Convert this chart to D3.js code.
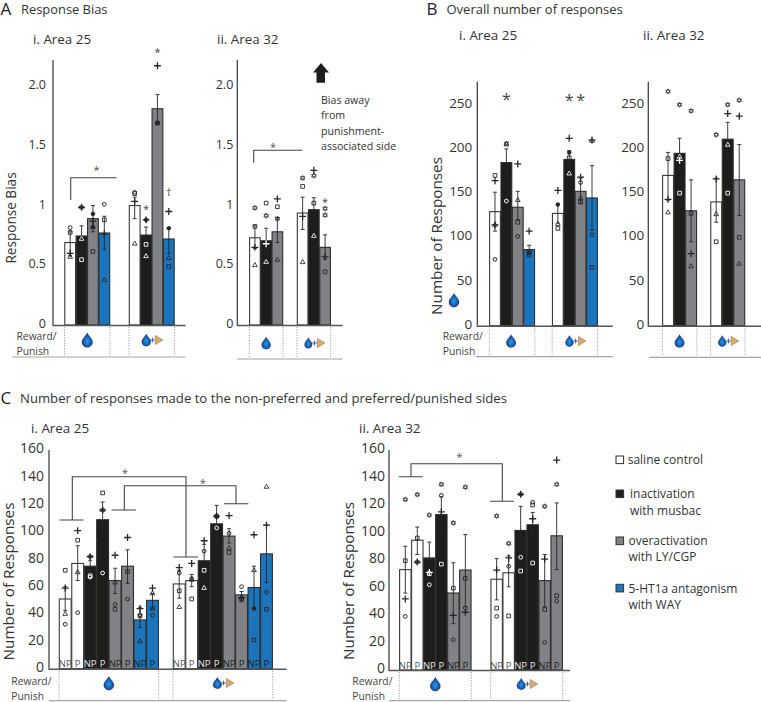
<!DOCTYPE html>
<html><head><meta charset="utf-8">
<script src="https://cdn.jsdelivr.net/npm/d3@7"></script>
<style>
html,body{margin:0;padding:0;background:#fff}
svg{display:block}
text{font-family:"Open Sans",sans-serif;fill:#333}
</style></head><body>
<svg id="chart" width="761" height="702"></svg>
<script>
// ---------- shared categories ----------
const groups = ["water","water+punish"];
const conditions = ["saline","musbac","ly","way"];
const sides = ["NP","P"];
const legendLabels = [["saline control"],["inactivation","with musbac"],["overactivation","with LY/CGP"],["5-HT1a antagonism","with WAY"]];
const biasTicks = [0,0.5,1,1.5,2];
const biasTickLabels = ["0","0.5","1","1.5","2.0"];
const totalTicks = [0,50,100,150,200,250];
const sideTicks = [0,20,40,60,80,100,120,140,160];

// ---------- A.i Response bias, Area 25 ----------
const a25Values = [0.69,0.745,0.89,0.77, 1.0,0.753,1.81,0.72];
const a25Hi =     [0.78,0.83,1.0,0.91, 1.07,0.82,1.93,0.81];
const a25Lo =     [0.58,0.64,0.78,0.63, 0.89,0.64,1.69,0.60];
const a25Points = [
 [["circle",0.815],["square",0.775],["plus",0.60],["triangle",0.57]],
 [["plus",0.985],["star",0.985],["triangle",0.72],["square",0.547]],
 [["dot",0.93],["plus",0.87],["dot",0.82],["triangle",0.82],["square",0.615]],
 [["circle",1.01],["square",0.88],["plus",0.76],["triangle",0.376]],
 [["square",1.10],["circle",1.11],["plus",1.035],["triangle",0.68]],
 [["plus",0.88],["dot",0.88],["square",0.675],["triangle",0.575]],
 [["plus",2.17],["square",1.69],["dot",1.69]],
 [["dot",0.81],["plus",0.95],["triangle",0.56],["square",0.49]]
];
const a25Notes = [[5,0.995,"*"],[6,2.31,"*"],[7,1.11,"†"]];

// ---------- A.ii Response bias, Area 32 ----------
const a32Values = [0.73,0.705,0.78, 0.937,0.965,0.65];
const a32Hi =     [0.83,0.81,0.90, 1.07,1.065,0.755];
const a32Lo =     [0.64,0.60,0.69, 0.80,0.91,0.55];
const a32Points = [
 [["star",0.98],["square",0.825],["plus",0.65],["triangle",0.50]],
 [["square",1.02],["star",0.915],["plus",0.68],["triangle",0.527]],
 [["plus",1.055],["square",0.99],["star",0.89],["triangle",0.545]],
 [["star",1.23],["square",1.16],["plus",0.91],["triangle",0.525]],
 [["plus",1.295],["star",1.25],["square",1.02],["triangle",0.745]],
 [["star",0.975],["star",0.92],["plus",0.57],["square",0.445]]
];
const a32Notes = [[5,1.05,"*"]];

// ---------- B.i Overall responses, Area 25 ----------
const b25Values = [129,184.5,134,86, 127,188,152,144.5];
const b25Hi =     [151,200,152,91, 138,198,167,181];
const b25Lo =     [107,168,120,81, 116,180,138,108];
const b25Points = [
 [["square",170],["plus",164],["triangle",114],["plus",114],["circle",75]],
 [["star",206],["triangle",205],["circle",141]],
 [["plus",183],["triangle",142],["square",117],["circle",101]],
 [["plus",107],["square",84],["square",80],["circle",82]],
 [["plus",153],["dot",137],["triangle",115],["square",110]],
 [["plus",212],["dot",196],["square",190],["triangle",172]],
 [["plus",168],["circle",162],["triangle",144],["square",140]],
 [["plus",210],["triangle",209],["circle",103],["square",66]]
];
const b25Notes = [[1,261,"*"],[5,259,"*"],[6,259,"*"]];

// ---------- B.ii Overall responses, Area 32 ----------
const b32Values = [170,195,130, 140,211,165];
const b32Hi =     [196,212,165, 167,230,205];
const b32Lo =     [142,176,95, 117,193,124.5];
const b32Points = [
 [["star",265],["square",189],["plus",143],["triangle",128]],
 [["star",250],["triangle",191],["plus",187],["square",150]],
 [["star",243],["square",127],["plus",81.5],["triangle",67]],
 [["star",216],["plus",166],["triangle",126],["square",95]],
 [["star",250],["plus",240],["triangle",204.5],["square",150]],
 [["star",255],["plus",237],["square",100],["triangle",70]]
];

// ---------- C.i Responses by side, Area 25 ----------
const c25Values = [51,77,75,109,64.5,75,35.7,50, 62,64.5,79,106,97,54,59.4,84];
const c25Hi =     [60,90,79,122,73.5,87,45,55, 72,69,91,119.5,102.4,56.5,75,105];
const c25Lo =     [42.5,64.5,70,96,55,62.5,30,44, 51.6,60,67,93,92,49,44,63];
const c25Points = [
 [["square",72],["plus",59],["triangle",40],["circle",32.5]],
 [["plus",101],["square",94],["triangle",70.5],["circle",41]],
 [["plus",82],["star",82],["square",68],["circle",67]],
 [["square",128.6],["plus",116],["star",116],["circle",70]],
 [["plus",83],["triangle",63],["circle",47],["square",43.5]],
 [["plus",96],["square",71],["circle",51]],
 [["plus",44],["circle",39.4],["square",38.6],["triangle",20]],
 [["plus",59],["triangle",55],["square",44],["circle",39]],
 [["plus",74],["circle",70],["square",57],["triangle",45]],
 [["plus",77],["circle",66],["triangle",65],["square",51]],
 [["plus",93.6],["circle",86],["square",72],["triangle",59]],
 [["plus",111.5],["square",111.5],["dot",111.5],["circle",103]],
 [["plus",112],["circle",99],["triangle",88],["square",85]],
 [["circle",60],["plus",52],["triangle",52],["square",51]],
 [["plus",98],["triangle",72],["dot",44],["square",21]],
 [["triangle",133],["plus",105],["circle",56],["square",43.5]]
];

// ---------- C.ii Responses by side, Area 32 ----------
const c32Values = [73,94.4,81.5,113,56,72.7, 66,70.7,101.5,105.6,65,97.6];
const c32Hi =     [90,104,93,126,78,98.5, 81,83,119,114.6,84,121.5];
const c32Lo =     [56,84,70,100,33.7,46, 51,60.5,85,97.6,46,73];
const c32Points = [
 [["star",124],["square",79.5],["plus",51.7],["circle",39]],
 [["star",127.6],["square",96],["plus",78.5],["star",78.5]],
 [["star",112.7],["plus",71],["square",70],["circle",62]],
 [["star",135],["circle",127],["plus",115],["square",77]],
 [["star",107],["square",59.5],["plus",39.8],["circle",22]],
 [["star",133],["square",66.6],["circle",45],["plus",42]],
 [["star",112],["plus",72.7],["square",45],["circle",39]],
 [["star",92],["plus",81.5],["circle",75.4],["square",39.3]],
 [["star",127.8],["plus",127.8],["circle",82],["square",72]],
 [["circle",122],["square",120],["plus",110],["square",77.8]],
 [["star",119],["plus",80.7],["square",44],["circle",20]],
 [["plus",152.7],["star",135],["square",54],["circle",50]]
];

// ---------- drawing ----------
const fillOf = {saline:"#ffffff",musbac:"#1d1d1b",ly:"#808285",way:"#1b75bc"};
const ink = "#262626";
const svg = d3.select("#chart");
const defs = svg.append("defs");
const grad = defs.append("radialGradient").attr("id","drop").attr("cx","50%").attr("cy","58%").attr("r","55%");
grad.append("stop").attr("offset","0%").attr("stop-color","#1fa2de");
grad.append("stop").attr("offset","55%").attr("stop-color","#1b5fb5");
grad.append("stop").attr("offset","100%").attr("stop-color","#1c2a7e");

const starSym = {draw(c,size){
  const r=Math.sqrt(size)*0.9;
  [[0,1,2],[3,4,5]].forEach((t,k)=>{
    t.forEach((i,j)=>{
      const a=(k?Math.PI:0)+ (j*2*Math.PI/3) - Math.PI/2;
      const x=r*Math.cos(a), y=r*Math.sin(a);
      j?c.lineTo(x,y):c.moveTo(x,y);
    });
    c.closePath();
  });
}};
const plusSym = {draw(c,size){const r=Math.sqrt(size)/2;c.moveTo(-r,0);c.lineTo(r,0);c.moveTo(0,-r);c.lineTo(0,r);}};
const symbols = {
  circle:{t:d3.symbolCircle,s:11,fill:false,w:1},
  dot:{t:d3.symbolCircle,s:10,fill:true,w:1},
  square:{t:d3.symbolSquare,s:13.5,fill:false,w:0.9},
  triangle:{t:d3.symbolTriangle,s:9.5,fill:false,w:0.85},
  star:{t:starSym,s:8.5,fill:false,w:0.7},
  plus:{t:plusSym,s:48,fill:false,w:1.3}
};

function label(x,y,str,size,opts={}){
  const t=svg.append("text").attr("x",x).attr("y",y).attr("dy","0.35em").attr("font-size",size).text(str);
  if(opts.fill)t.style("fill",opts.fill);
  if(opts.anchor)t.attr("text-anchor",opts.anchor);
  if(opts.family)t.style("font-family",opts.family);
  return t;
}
function dropPath(x,y,s){
  const p=d3.path();
  p.moveTo(x,y-7.5*s);
  p.bezierCurveTo(x+1.5*s,y-4*s,x+5.5*s,y-1.5*s,x+5.5*s,y+2*s);
  p.bezierCurveTo(x+5.5*s,y+5.5*s,x+2.5*s,y+7.5*s,x,y+7.5*s);
  p.bezierCurveTo(x-2.5*s,y+7.5*s,x-5.5*s,y+5.5*s,x-5.5*s,y+2*s);
  p.bezierCurveTo(x-5.5*s,y-1.5*s,x-1.5*s,y-4*s,x,y-7.5*s);
  p.closePath();
  return p.toString();
}
function drop(x,y,s){svg.append("path").attr("d",dropPath(x,y,s)).attr("fill","url(#drop)");}
function dropPunish(x,y,s){
  drop(x-5.5,y,s);
  svg.append("path").attr("d",d3.line()([[x-1.6,y],[x+3,y]])+d3.line()([[x+0.7,y-2.3],[x+0.7,y+2.3]])).attr("stroke","#2b4f8f").attr("stroke-width",0.9).attr("fill","none");
  svg.append("path").attr("d",d3.line()([[x+3.5,y-4.5],[x+11,y],[x+3.5,y+4.5]])+"Z")
    .attr("fill","#d8ab6c").attr("stroke","#a8824f").attr("stroke-width",0.7);
}

function panel(cfg){
  const {values,hi,lo,points,notes=[],noteSize=11,left,right,top,bottom,domainMax,tickVals,tickFmt,tickPad,tickSize,groupRange,gap,conds,paired,lineY,lineStart,rewardX,rewardY,dropY,ylabel,ylabelX,ylabelY,dropScale=1} = cfg;
  const y=d3.scaleLinear().domain([0,domainMax]).range([bottom,top]);
  const gTotal=groupRange[1]-groupRange[0];
  const gBand=d3.scaleBand().domain(groups).range(groupRange).paddingInner(gap/((gTotal+gap)/2));
  const cats=paired?conds.flatMap(c=>sides.map(s=>c+"|"+s)):conds;
  const inner=d3.scaleBand().domain(cats).range([0,gBand.bandwidth()]);
  const bars=groups.flatMap(g=>cats.map(c=>({g,c,cond:c.split("|")[0],side:c.split("|")[1]})));
  bars.forEach((b,i)=>{b.v=values[i];b.hi=hi[i];b.lo=lo[i];b.pts=points[i];b.x=gBand(b.g)+inner(b.c);b.cx=b.x+inner.bandwidth()/2;});

  // y axis
  const axis=d3.axisLeft(y).tickValues(tickVals).tickSize(0).tickPadding(tickPad).tickFormat(tickFmt);
  const ag=svg.append("g").attr("transform",`translate(${left},0)`).call(axis);
  ag.select(".domain").remove();
  ag.selectAll("text").attr("font-size",tickSize).style("font-family",'"Open Sans",sans-serif').style("fill","#333").attr("dy","0.2em");

  // bars
  svg.append("g").selectAll("rect").data(bars).join("rect")
    .attr("x",d=>d.x+0.3).attr("width",inner.bandwidth()-0.6)
    .attr("y",d=>y(d.v)).attr("height",d=>y(0)-y(d.v))
    .attr("fill",d=>fillOf[d.cond]).attr("stroke",d=>d.cond==="saline"?"#3a3a3a":"#2e2e2e").attr("stroke-width",1.1);

  // axes lines
  svg.append("line").attr("x1",left).attr("x2",left).attr("y1",top).attr("y2",bottom).attr("stroke","#444").attr("stroke-width",1.3);
  svg.append("line").attr("x1",left-0.6).attr("x2",right).attr("y1",bottom+0.5).attr("y2",bottom+0.5).attr("stroke","#555").attr("stroke-width",1.6);

  // side labels
  if(paired){
    svg.append("g").selectAll("text").data(bars).join("text")
      .attr("x",d=>d.cx).attr("y",bottom-1.5).attr("text-anchor","middle").attr("font-size",9.5)
      .style("font-family",'"Liberation Sans Narrow","Open Sans",sans-serif')
      .style("fill",d=>d.cond==="musbac"?"#e8e8e8":(d.cond==="saline"?"#555":"#222"))
      .text(d=>d.side);
  }

  // error bars
  const eg=svg.append("g").attr("stroke",ink).attr("stroke-width",0.9);
  bars.forEach(b=>{
    eg.append("line").attr("x1",b.cx).attr("x2",b.cx).attr("y1",y(b.hi)).attr("y2",y(b.lo));
    [b.hi,b.lo].forEach(v=>eg.append("line").attr("x1",b.cx-2).attr("x2",b.cx+2).attr("y1",y(v)).attr("y2",y(v)));
  });

  // individual subject markers
  const mg=svg.append("g");
  bars.forEach(b=>b.pts.forEach(([shape,v])=>{
    const s=symbols[shape];
    const col=(b.cond==="musbac"&&v<b.v)?"#fff":ink;
    mg.append("path").attr("d",d3.symbol().type(s.t).size(s.s)())
      .attr("transform",`translate(${b.cx},${y(v)})`)
      .attr("fill",s.fill?col:"none").attr("stroke",col).attr("stroke-width",s.w);
  }));

  // significance notes
  notes.forEach(([i,v,str])=>{
    svg.append("text").attr("x",bars[i].cx).attr("y",y(v)).attr("dy",str==="*"?"0.6em":"0.35em")
      .attr("text-anchor","middle").attr("font-size",noteSize).style("fill","#444").text(str);
  });

  // footer: reward/punish row
  const row=svg.append("g");
  groups.forEach(g=>{
    [gBand(g),gBand(g)+gBand.bandwidth()].forEach(x=>{
      row.append("line").attr("x1",x).attr("x2",x).attr("y1",bottom+2).attr("y2",lineY-1)
        .attr("stroke","#888").attr("stroke-width",0.8).attr("stroke-dasharray","1.2 1.4");
    });
  });
  row.append("line").attr("x1",lineStart).attr("x2",right).attr("y1",lineY).attr("y2",lineY).attr("stroke","#a6a6a6").attr("stroke-width",1.2);
  const c1=gBand(groups[0])+gBand.bandwidth()/2, c2=gBand(groups[1])+gBand.bandwidth()/2;
  drop(c1+(cfg.dropDx||0),dropY,dropScale);
  dropPunish(c2,dropY,dropScale*0.85);
  if(rewardX!=null){
    label(rewardX,rewardY,"Reward/",10.3,{fill:"#444"});
    label(rewardX,rewardY+15,"Punish",10.3,{fill:"#444"});
  }
  if(ylabel){
    svg.append("text").attr("transform",`translate(${ylabelX},${ylabelY}) rotate(-90)`).attr("text-anchor","middle").attr("dy","0.35em")
      .attr("font-size",cfg.ylabelSize).style("fill","#333").text(ylabel);
  }
  return {y,bars};
}

function bracket(pts,star){
  svg.append("path").attr("d",pts.map(s=>d3.line()(s)).join("")).attr("fill","none").attr("stroke","#444").attr("stroke-width",1.1);
  svg.append("text").attr("x",star[0]).attr("y",star[1]).attr("dy","0.6em").attr("text-anchor","middle").attr("font-size",11).style("fill","#555").text("*");
}

// ----- panels -----
const biasFmt=d=>biasTickLabels[biasTicks.indexOf(d)];
panel({values:a25Values,hi:a25Hi,lo:a25Lo,points:a25Points,notes:a25Notes,left:53,right:185.5,top:60,bottom:325,domainMax:2.218,
  tickVals:biasTicks,tickFmt:biasFmt,tickPad:7,tickSize:12.5,groupRange:[64.5,174.5],gap:19,conds:conditions,lineY:357,lineStart:12,rewardX:16.5,rewardY:336,dropY:340,
  ylabel:"Response Bias",ylabelX:11.5,ylabelY:218,ylabelSize:13.6});
panel({values:a32Values,hi:a32Hi,lo:a32Lo,points:a32Points,notes:a32Notes,left:237.3,right:342.7,top:60,bottom:325,domainMax:2.218,
  tickVals:biasTicks,tickFmt:biasFmt,tickPad:4,tickSize:12.5,groupRange:[249.3,330.7],gap:14,conds:conditions.slice(0,3),lineY:359,lineStart:237,dropY:343,dropScale:.85});
panel({values:b25Values,hi:b25Hi,lo:b25Lo,points:b25Points,notes:b25Notes,noteSize:16,left:477.3,right:612.7,top:81.7,bottom:325.7,domainMax:276,
  tickVals:totalTicks,tickFmt:String,tickPad:5,tickSize:13.5,groupRange:[489.3,597.7],gap:17.3,conds:conditions,lineY:356.7,lineStart:476,rewardX:442.7,rewardY:336.5,dropY:341,dropDx:-1,dropScale:.9,
  ylabel:"Number of Responses",ylabelX:437,ylabelY:236,ylabelSize:15.3});
panel({values:b32Values,hi:b32Hi,lo:b32Lo,points:b32Points,left:648.3,right:761,top:81.7,bottom:325.7,domainMax:276,
  tickVals:totalTicks,tickFmt:String,tickPad:4,tickSize:13.5,groupRange:[662.3,745],gap:13.6,conds:conditions.slice(0,3),lineY:357.3,lineStart:649,dropY:341,dropScale:.9});
panel({values:c25Values,hi:c25Hi,lo:c25Lo,points:c25Points,left:49,right:286.7,top:450,bottom:668.7,domainMax:160,
  tickVals:sideTicks,tickFmt:String,tickPad:5,tickSize:14,groupRange:[59,272.7],gap:14.3,conds:conditions,paired:true,lineY:700.7,lineStart:49,rewardX:11.3,rewardY:681.5,dropY:683,dropScale:.95,
  ylabel:"Number of Responses",ylabelX:9,ylabelY:581.5,ylabelSize:15.3});
panel({values:c32Values,hi:c32Hi,lo:c32Lo,points:c32Points,left:389,right:570,top:450,bottom:670,domainMax:160,
  tickVals:sideTicks,tickFmt:String,tickPad:4,tickSize:14,groupRange:[399.3,562.7],gap:19.3,conds:conditions.slice(0,3),paired:true,lineY:700.7,lineStart:389,rewardX:352.3,rewardY:681.5,dropY:684,dropScale:.95,
  ylabel:"Number of Responses",ylabelX:348.5,ylabelY:581,ylabelSize:15.3});

// ----- brackets -----
bracket([[[70.7,200],[70.7,177.7],[116.7,177.7]]],[96.5,167.5]);
bracket([[[253.7,162.7],[253.7,150.3],[302.3,150.3]]],[273,144]);
bracket([[[72.3,520],[72.3,476.7],[186,476.7],[186,557]],[[59.5,520],[83.5,520]],[[173.5,557],[198,557]]],[125,470]);
bracket([[[124.3,510],[124.3,485.7],[236,485.7],[236,503.7]],[[111.7,510],[136,510]],[[224,503.7],[248.3,503.7]]],[202.7,480.3]);
bracket([[[411,476.7],[411,463.7],[502.3,463.7],[502.3,501.3]],[[399,476.7],[422.7,476.7]],[[490,501.3],[514,501.3]]],[459.5,454.3]);

// ----- headings -----
label(0.5,9,"A",17,{fill:"#222"});
label(21,9,"Response Bias",12.9);
label(33,39,"i. Area 25",13.4);
label(217,39,"ii. Area 32",13.4);
label(426.5,9,"B",17,{fill:"#222"});
label(446.5,9,"Overall number of responses",13);
label(459,35,"i. Area 25",13.4);
label(643,35,"ii. Area 32",13.4);
label(0.5,398,"C",17,{fill:"#222"});
label(20,398,"Number of responses made to the non-preferred and preferred/punished sides",13.15);
label(31,428,"i. Area 25",13.4);
label(359,428,"ii. Area 32",13.4);

// ----- stray droplet in B.i -----
drop(454,300,0.95);

// ----- arrow and note -----
svg.append("path").attr("d",d3.line()([[321,63],[329,72.5],[325,72.5],[325,82.7],[316.5,82.7],[316.5,72.5],[313,72.5]])+"Z").attr("fill","#1d1d1b");
["Bias away","from","punishment-","associated side"].forEach((s,i)=>label(321,[100.5,115.5,131,146][i],s,10.6));

// ----- legend -----
const legendTop=[456,490,537,584.3];
const legendTextX=[627.7,630,628.5,628.5];
const legendRows=[[460],[494,511],[540.7,556.7],[589,605]];
conditions.forEach((c,i)=>{
  svg.append("rect").attr("x",616).attr("y",legendTop[i]).attr("width",7.6).attr("height",7.6)
    .attr("fill",fillOf[c]).attr("stroke","#333").attr("stroke-width",1);
  legendLabels[i].forEach((s,j)=>label(legendTextX[i],legendRows[i][j],s,12));
});
</script>
</body></html>
